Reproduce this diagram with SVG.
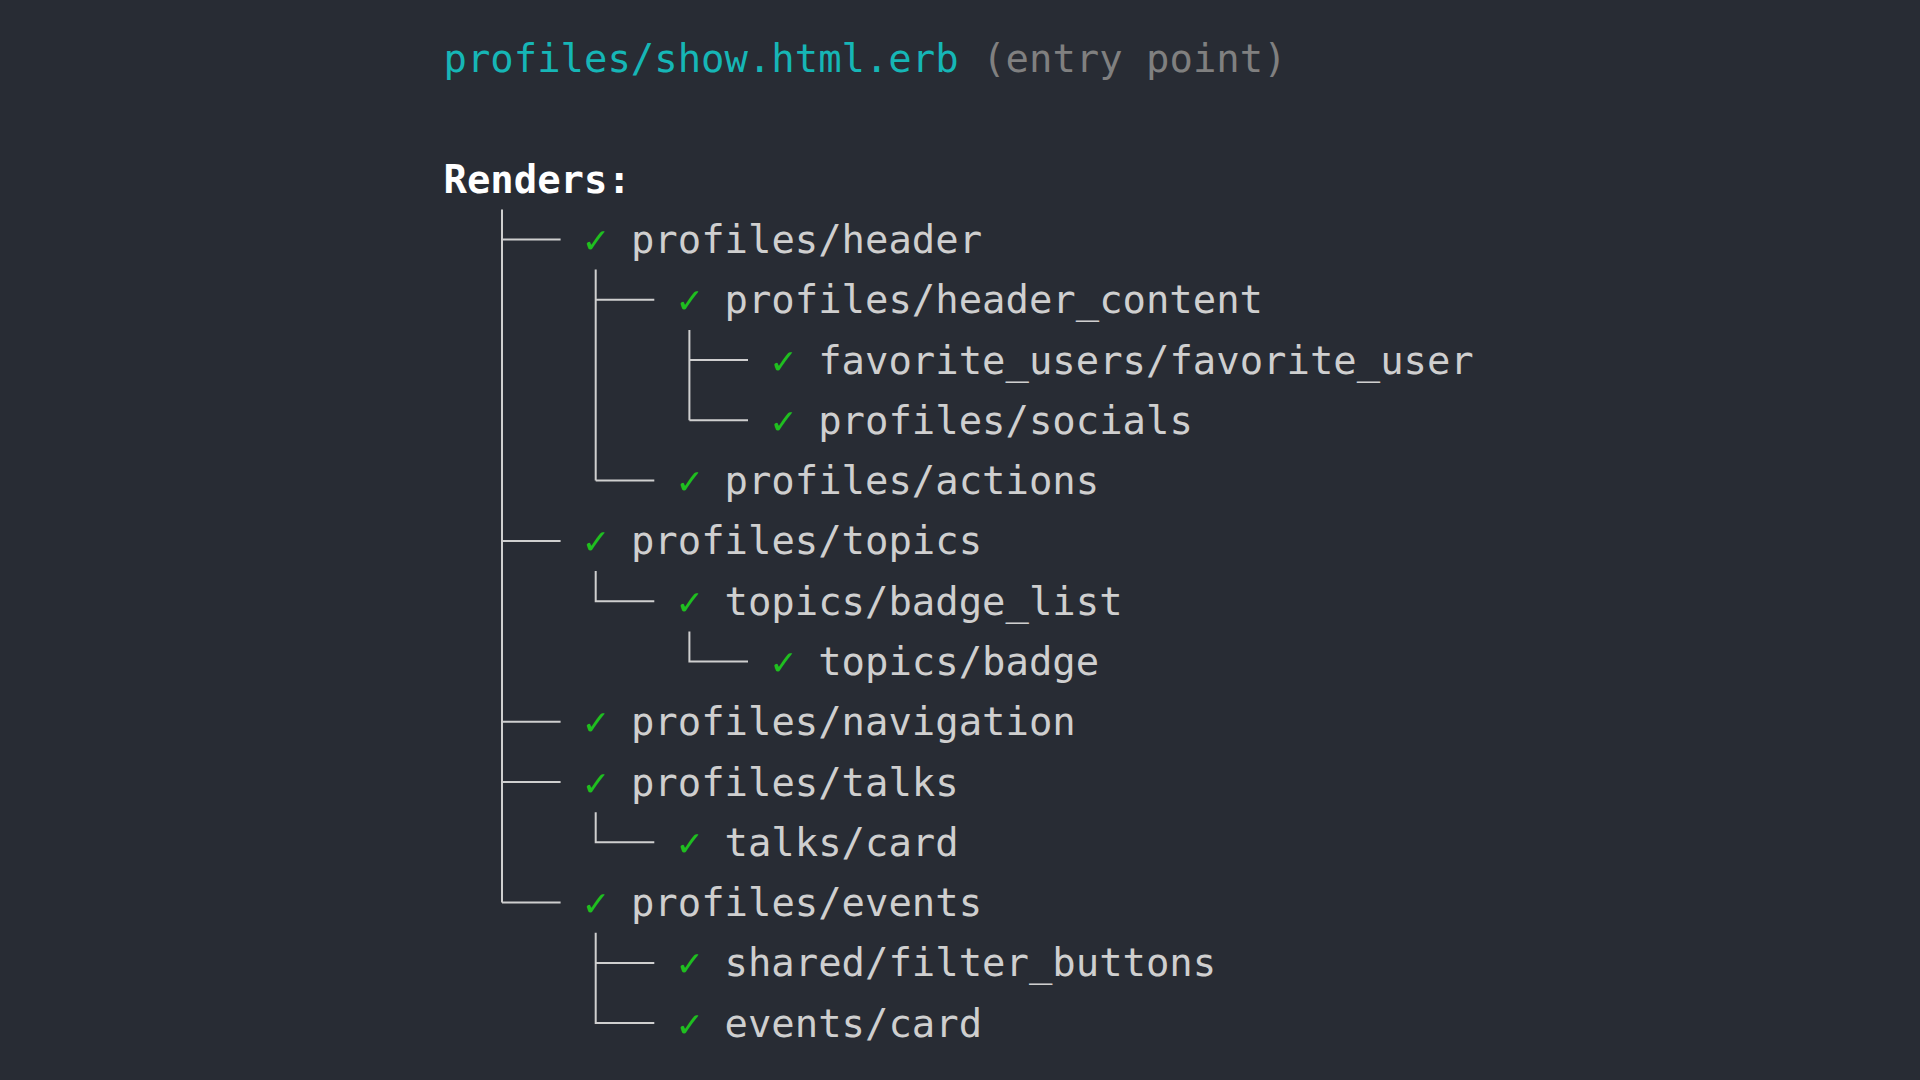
<svg xmlns="http://www.w3.org/2000/svg" width="1920" height="1080" viewBox="0 0 1920 1080">
<style>
text{font-family:"DejaVu Sans Mono","Liberation Mono",monospace;font-size:38.9px}
.t{fill:#cfcfcf}
.ck{fill:#1fbf1f}
.ln{stroke:#cfcfcf;stroke-width:2;fill:none}
</style>
<rect width="1920" height="1080" fill="#282c34"/>
<g id="title">
<text x="443.5" y="72.2" fill="#16b6b6">profiles/show.html.erb</text>
<text x="982.2" y="72.2" fill="#808080">(entry point)</text>
</g>
<g id="renders"><text x="443.5" y="192.7" fill="#ffffff" font-weight="bold">Renders:</text></g>
<g id="connectors" class="ln">
<path class="ln" d="M502 209.4V902.6M502 239.5H560.6M502 540.9H560.6M502 721.7H560.6M502 782H560.6M502 902.6H560.6"/>
<path class="ln" d="M595.7 269.6V480.6M595.7 299.8H654.3M595.7 480.6H654.3"/>
<path class="ln" d="M689.4 330V420.3M689.4 360.1H748M689.4 420.3H748"/>
<path class="ln" d="M595.7 571.1V601.2H654.3"/>
<path class="ln" d="M689.4 631.4V661.5H748"/>
<path class="ln" d="M595.7 812.2V842.3H654.3"/>
<path class="ln" d="M595.7 932.8V1023.1H654.3M595.7 962.9H654.3"/>
</g>
<g id="n-profiles-header"><text class="ck" x="584" y="253">✓</text><text class="t" x="630.9" y="253">profiles/header</text></g>
<g id="n-profiles-header-content"><text class="ck" x="677.7" y="313.3">✓</text><text class="t" x="724.5" y="313.3">profiles/header_content</text></g>
<g id="n-favorite-user"><text class="ck" x="771.4" y="373.6">✓</text><text class="t" x="818.2" y="373.6">favorite_users/favorite_user</text></g>
<g id="n-profiles-socials"><text class="ck" x="771.4" y="433.8">✓</text><text class="t" x="818.2" y="433.8">profiles/socials</text></g>
<g id="n-profiles-actions"><text class="ck" x="677.7" y="494.1">✓</text><text class="t" x="724.5" y="494.1">profiles/actions</text></g>
<g id="n-profiles-topics"><text class="ck" x="584" y="554.4">✓</text><text class="t" x="630.9" y="554.4">profiles/topics</text></g>
<g id="n-topics-badge-list"><text class="ck" x="677.7" y="614.7">✓</text><text class="t" x="724.5" y="614.7">topics/badge_list</text></g>
<g id="n-topics-badge"><text class="ck" x="771.4" y="675">✓</text><text class="t" x="818.2" y="675">topics/badge</text></g>
<g id="n-profiles-navigation"><text class="ck" x="584" y="735.2">✓</text><text class="t" x="630.9" y="735.2">profiles/navigation</text></g>
<g id="n-profiles-talks"><text class="ck" x="584" y="795.5">✓</text><text class="t" x="630.9" y="795.5">profiles/talks</text></g>
<g id="n-talks-card"><text class="ck" x="677.7" y="855.8">✓</text><text class="t" x="724.5" y="855.8">talks/card</text></g>
<g id="n-profiles-events"><text class="ck" x="584" y="916.1">✓</text><text class="t" x="630.9" y="916.1">profiles/events</text></g>
<g id="n-filter-buttons"><text class="ck" x="677.7" y="976.4">✓</text><text class="t" x="724.5" y="976.4">shared/filter_buttons</text></g>
<g id="n-events-card"><text class="ck" x="677.7" y="1036.6">✓</text><text class="t" x="724.5" y="1036.6">events/card</text></g>
</svg>
